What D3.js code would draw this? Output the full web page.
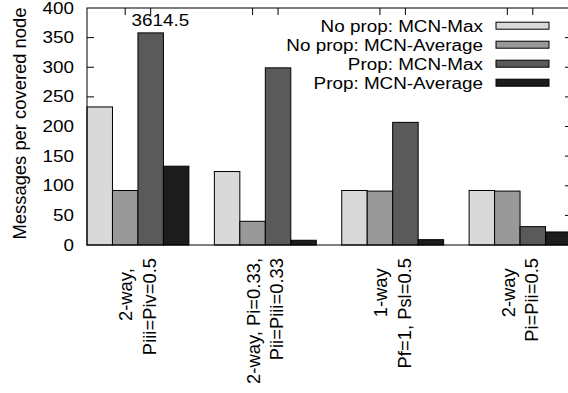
<!DOCTYPE html>
<html>
<head>
<meta charset="utf-8">
<script src="https://cdn.jsdelivr.net/npm/d3@7/dist/d3.min.js"></script>
<style>
  html, body { margin: 0; padding: 0; background: #fff; }
  svg { display: block; }
  text { font-family: "Liberation Sans", Arial, sans-serif; fill: #000; }
</style>
</head>
<body>
<svg id="chart" width="568" height="393"></svg>
<script>
// ---- data ----
const categories = [
  ["2-way,  ", "Piii=Piv=0.5"],
  ["2-way, Pi=0.33,", "Pii=Piii=0.33"],
  ["1-way  ", "Pf=1, Psl=0.5"],
  ["2-way  ", "Pi=Pii=0.5"]
];
const seriesNames = ["No prop: MCN-Max", "No prop: MCN-Average", "Prop: MCN-Max", "Prop: MCN-Average"];
const noPropMax = [233, 124, 92, 92];
const noPropAvg = [92, 40, 91, 91];
const propMax   = [358, 299, 207, 31];
const propAvg   = [133, 8, 9, 22];
const seriesValues = [noPropMax, noPropAvg, propMax, propAvg];
const yTicks = [0, 50, 100, 150, 200, 250, 300, 350, 400];
const annotation = { group: 0, series: 2, text: "3614.5" };

// ---- layout ----
const colors = ["#d9d9d9", "#999999", "#5a5a5a", "#1c1c1c"];
const L = 87, R = 572, T = 8, B = 245;
const hFont = 15.6, hStretch = 1.21, vFont = 18.4, tickLen = 7;

const svg = d3.select("#chart");
const groupIdx = categories.map((d, i) => i);

const x = d3.scaleBand().domain(groupIdx).range([L, 571]).paddingInner(0.2).paddingOuter(0);
const xi = d3.scaleBand().domain(d3.range(seriesNames.length)).range([0, x.bandwidth()]).padding(0);
const y = d3.scaleLinear().domain([0, 400]).range([B, T]);

function htext(sel, tx, ty, str, anchor) {
  const g = sel.append("g").attr("transform", `translate(${tx},${ty}) scale(${hStretch},1)`);
  g.append("text").attr("text-anchor", anchor).style("font-size", hFont + "px").text(str);
  return g;
}

// ticks (drawn below bars)
const ticks = svg.append("g").attr("stroke", "#000").attr("stroke-width", 1);
yTicks.forEach(v => {
  if (v === 0 || v === 400) return;
  ticks.append("line").attr("x1", L).attr("x2", L + tickLen).attr("y1", y(v)).attr("y2", y(v));
  ticks.append("line").attr("x1", R - tickLen).attr("x2", R).attr("y1", y(v)).attr("y2", y(v));
});
groupIdx.forEach(g => {
  [1, 2].forEach(s => {
    const cx = x(g) + xi(s) + xi.bandwidth() / 2;
    ticks.append("line").attr("x1", cx).attr("x2", cx).attr("y1", T).attr("y2", T + tickLen);
    ticks.append("line").attr("x1", cx).attr("x2", cx).attr("y1", B).attr("y2", B - tickLen);
  });
});

// bars
const bars = svg.append("g");
groupIdx.forEach(g => {
  seriesValues.forEach((vals, s) => {
    bars.append("rect")
      .attr("x", x(g) + xi(s))
      .attr("y", y(vals[g]))
      .attr("width", xi.bandwidth())
      .attr("height", y(0) - y(vals[g]))
      .attr("fill", colors[s])
      .attr("stroke", "#000")
      .attr("stroke-width", 1);
  });
});

// frame
svg.append("rect").attr("x", L).attr("y", T).attr("width", R - L).attr("height", B - T)
  .attr("fill", "none").attr("stroke", "#000").attr("stroke-width", 1);

// y tick labels
yTicks.forEach(v => {
  htext(svg, 74, y(v) + 5.5, String(v), "end");
});

// y axis title
svg.append("text")
  .attr("transform", `translate(26,${(T + B) / 2 - 3}) rotate(-90)`)
  .attr("text-anchor", "middle")
  .style("font-size", vFont + "px")
  .text("Messages per covered node");

// x category labels
groupIdx.forEach(g => {
  const cx = x(g) + x.bandwidth() / 2;
  const lines = categories[g];
  const offs = [-5.5, 18];
  lines.forEach((ln, k) => {
    svg.append("text")
      .attr("transform", `translate(${cx + offs[k]},258) rotate(-90)`)
      .attr("text-anchor", "end")
      .attr("xml:space", "preserve")
      .style("white-space", "pre")
      .style("font-size", vFont + "px")
      .text(ln);
  });
});

// annotation
htext(svg, x(annotation.group) + xi(annotation.series) - 6.5, 26, annotation.text, "start");

// legend
seriesNames.forEach((name, i) => {
  const by = 31.7 + 19 * i;
  htext(svg, 483, by, name, "end");
  svg.append("rect").attr("x", 496).attr("y", by - 9.5).attr("width", 53).attr("height", 7)
    .attr("fill", colors[i]).attr("stroke", "#000").attr("stroke-width", 1);
});
</script>
</body>
</html>
